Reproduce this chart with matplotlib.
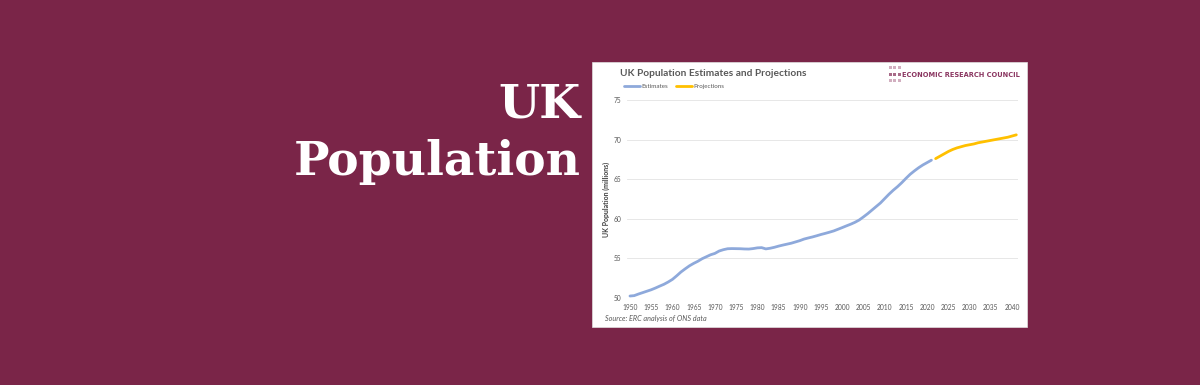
import matplotlib.pyplot as plt
from matplotlib.patches import Rectangle

# UK population (millions), ONS mid-year estimates and projections
est_years = list(range(1950, 2022))
est_values = [
    50.25, 50.30, 50.50, 50.68, 50.86, 51.04, 51.26, 51.50, 51.73, 52.02,
    52.35, 52.80, 53.28, 53.68, 54.06, 54.37, 54.64, 54.96, 55.21, 55.46,
    55.63, 55.93, 56.10, 56.22, 56.24, 56.23, 56.22, 56.19, 56.18, 56.24,
    56.33, 56.36, 56.20, 56.28, 56.40, 56.55, 56.68, 56.80, 56.92, 57.08,
    57.24, 57.44, 57.58, 57.71, 57.86, 58.02, 58.16, 58.31, 58.47, 58.68,
    58.89, 59.11, 59.32, 59.56, 59.85, 60.24, 60.65, 61.10, 61.55, 62.00,
    62.55, 63.10, 63.60, 64.05, 64.55, 65.10, 65.62, 66.05, 66.45, 66.80,
    67.10, 67.40,
]
proj_years = list(range(2022, 2042))
proj_values = [
    67.60, 67.90, 68.20, 68.50, 68.75, 68.95, 69.10, 69.25, 69.35, 69.45,
    69.60, 69.70, 69.80, 69.90, 70.00, 70.10, 70.20, 70.30, 70.45, 70.60,
]
x_ticks = list(range(1950, 2045, 5))
y_ticks = [50, 55, 60, 65, 70, 75]

W, H = 1200, 385
fig = plt.figure(figsize=(12, 3.85), dpi=100, facecolor="#7A2548")

# white card behind the chart
fig.patches.append(Rectangle((592 / W, 1 - 327 / H), 435 / W, 265 / H,
                             transform=fig.transFigure, facecolor="white",
                             edgecolor="#E0E0E0", linewidth=0.5, zorder=-5))

# big heading on the left
fig.text(581 / W, 1 - 117 / H, "UK", ha="right", va="baseline", color="white",
         fontsize=34, fontweight="bold", family="DejaVu Serif")
fig.text(581 / W, 1 - 175 / H, "Population", ha="right", va="baseline", color="white",
         fontsize=34, fontweight="bold", family="DejaVu Serif")

ax = fig.add_axes([627 / W, 1 - 298 / H, 391 / W, 198 / H])
ax.set_facecolor("white")
ax.plot(est_years, est_values, color="#8EA9DB", linewidth=2.0, label="Estimates",
        solid_capstyle="round")
ax.plot(proj_years, proj_values, color="#FFC000", linewidth=2.0, label="Projections",
        solid_capstyle="round")

ax.set_xlim(1949.3, 2041.4)
ax.set_ylim(50, 75)
ax.set_xticks(x_ticks)
ax.set_yticks(y_ticks)
ax.tick_params(length=0, labelsize=4.8, labelcolor="#595959", pad=4)
for lab in ax.get_xticklabels() + ax.get_yticklabels():
    lab.set_family("Lato")
ax.grid(axis="y", color="#E3E3E3", linewidth=0.6)
ax.set_axisbelow(True)
for s in ax.spines.values():
    s.set_visible(False)
ax.set_ylabel("UK Population (millions)", fontsize=5, fontweight="bold",
              color="#404040", family="Lato", labelpad=3)

fig.text(620 / W, 1 - 74 / H, "UK Population Estimates and Projections", ha="left",
         va="center", fontsize=7.3, fontweight="bold", color="#595959", family="Lato")
ax.legend(ncol=2, frameon=False, handlelength=2.6, handletextpad=0.2,
          columnspacing=1.2, borderpad=0, loc="center left",
          bbox_to_anchor=(621 / W, 1 - 86 / H), bbox_transform=fig.transFigure,
          prop={"family": "Lato", "size": 4.5}, labelcolor="#595959")

fig.text(605 / W, 1 - 318 / H, "Source: ERC analysis of ONS data", ha="left",
         va="center", fontsize=5.2, style="italic", color="#595959", family="Lato")

# logo: 3x3 block of small squares next to the name
for row, c in enumerate(["#D2AFC0", "#A86A88", "#D2AFC0"]):
    for col in range(3):
        fig.patches.append(Rectangle(((889 + col * 4.3) / W, 1 - (69 + row * 6.5) / H),
                                     3 / W, 3 / H, transform=fig.transFigure,
                                     facecolor=c, edgecolor="none"))
fig.text(902 / W, 1 - 75 / H, "ECONOMIC RESEARCH COUNCIL", ha="left", va="center",
         fontsize=4.8, fontweight="bold", color="#8A3560", family="DejaVu Sans")

fig.savefig("out.png", dpi=100, facecolor=fig.get_facecolor())
